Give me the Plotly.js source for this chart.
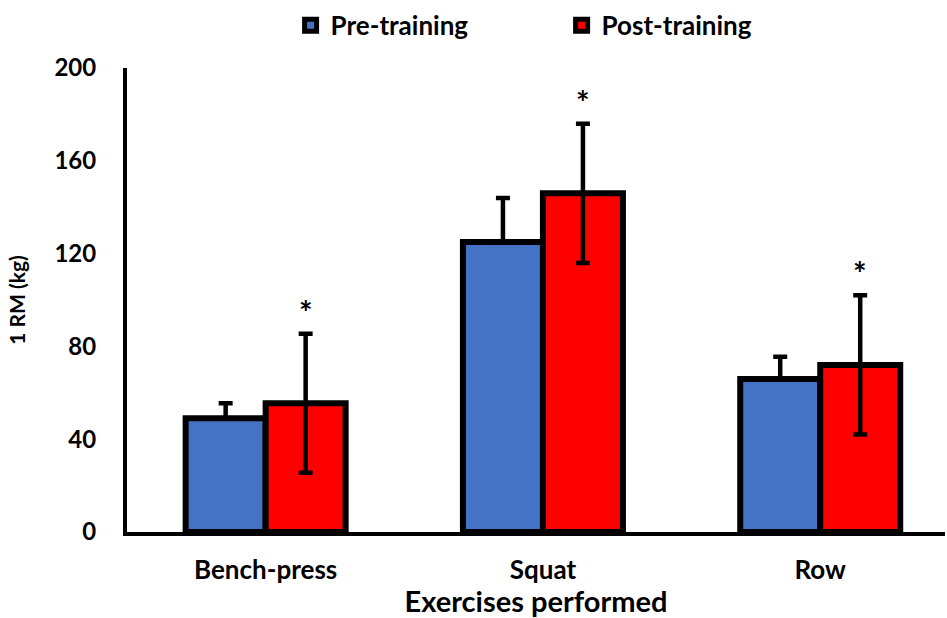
<!DOCTYPE html>
<html>
<head>
<meta charset="utf-8">
<script src="https://cdn.plot.ly/plotly-3.0.1.min.js"></script>
<style>html,body{margin:0;padding:0;background:#fff;}#chart{width:947px;height:618px;}</style>
</head>
<body>
<div id="chart"></div>
<script>
const categories = ["Bench-press", "Squat", "Row"];
const preValues = [49, 125, 66];
const preErr = [6.5, 19, 9.5];
const postValues = [55.5, 146, 72];
const postErr = [30, 30, 30];
const significant = ["*", "*", "*"];
const yTicks = [0, 40, 80, 120, 160, 200];

const FONT = "Lato, 'Open Sans', sans-serif";

const pre = {
  type: "bar", name: "Pre-training", x: categories, y: preValues,
  marker: {color: "#4472C4", line: {color: "#000", width: 6}},
  error_y: {type: "data", symmetric: false, array: preErr, arrayminus: preErr.map(() => 0),
            color: "#000", thickness: 4.5, width: 7}
};
const post = {
  type: "bar", name: "Post-training", x: categories, y: postValues,
  marker: {color: "#FF0000", line: {color: "#000", width: 6}},
  error_y: {type: "data", array: postErr, color: "#000", thickness: 4.5, width: 7}
};

const annotations = categories.map((c, i) => ({
  x: c, y: postValues[i] + postErr[i], xref: "x", yref: "y",
  text: significant[i], showarrow: false, xshift: 40, yanchor: "bottom", yshift: 0,
  font: {family: FONT, size: 32, color: "#000", weight: "bold"}
}));

const layout = {
  width: 947, height: 618,
  margin: {l: 127, r: 2, t: 68, b: 86, autoexpand: false},
  paper_bgcolor: "#fff", plot_bgcolor: "#fff",
  barmode: "group", bargap: 0.423, bargroupgap: 0,
  font: {family: FONT, color: "#000", size: 26, weight: "bold"},
  showlegend: true,
  legend: {orientation: "h", xref: "paper", x: 0.2, xanchor: "left",
           yref: "container", y: 0.997, yanchor: "top",
           font: {family: FONT, size: 26, color: "#000", weight: "bold"},
           itemwidth: 30, entrywidth: 226},
  xaxis: {
    range: [-0.5, 2.45], automargin: true,
    showline: true, linecolor: "#000", linewidth: 4, showgrid: false, zeroline: false,
    ticks: "", ticklabelstandoff: 12,
    tickfont: {family: FONT, size: 26, color: "#000", weight: "bold"},
    title: {text: "Exercises performed", standoff: 6,
            font: {family: FONT, size: 29, color: "#000", weight: "bold"}}
  },
  yaxis: {
    range: [0, 200], tickvals: yTicks, ticktext: yTicks.map(String),
    showline: true, linecolor: "#000", linewidth: 4, showgrid: false, zeroline: false,
    ticks: "", ticklabelstandoff: 22,
    tickfont: {family: FONT, size: 24, color: "#000", weight: "bold"},
    title: {text: "1 RM (kg)", standoff: 24,
            font: {family: FONT, size: 21, color: "#000", weight: "bold"}}
  },
  annotations: annotations
};

Plotly.newPlot("chart", [pre, post], layout, {displayModeBar: false, staticPlot: true});
</script>
</body>
</html>
